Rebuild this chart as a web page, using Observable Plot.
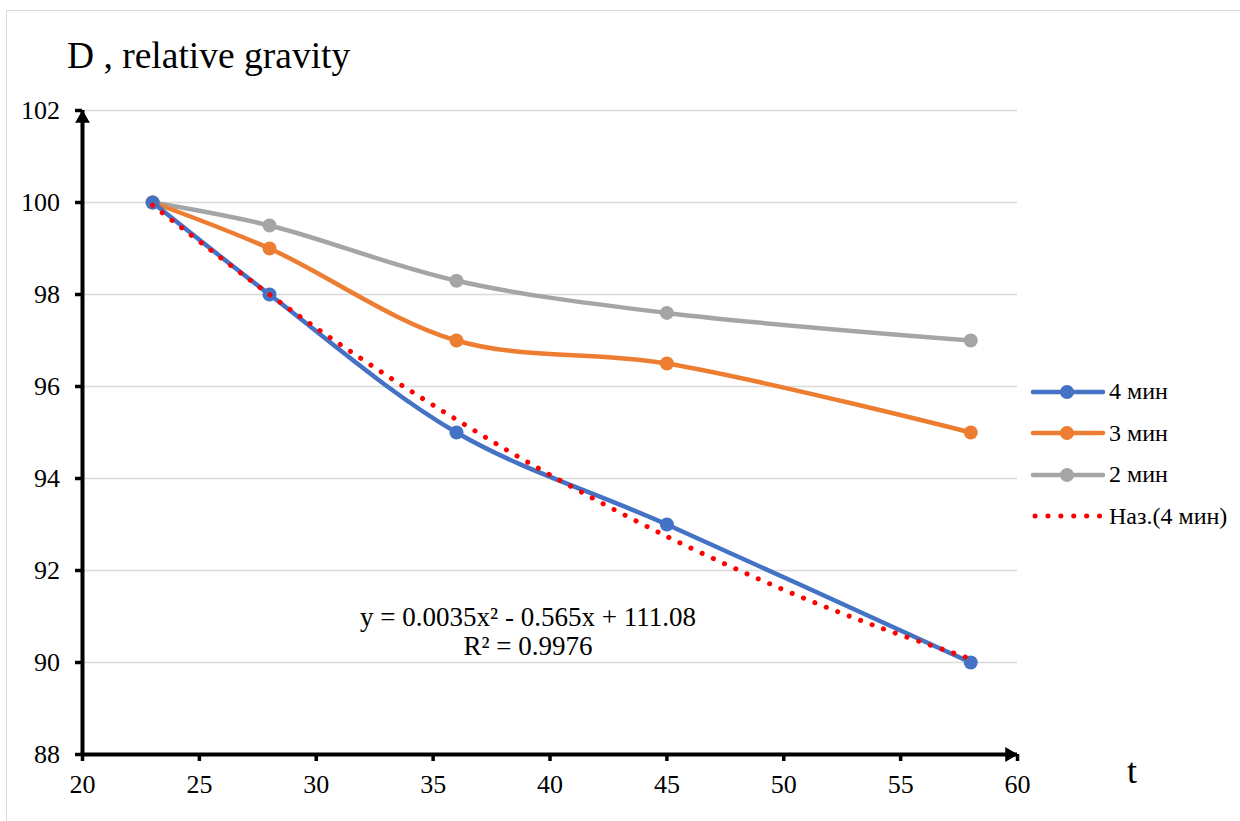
<!DOCTYPE html>
<html><head><meta charset="utf-8">
<script src="https://cdn.jsdelivr.net/npm/d3@7"></script>
<script src="https://cdn.jsdelivr.net/npm/@observablehq/plot@0.6"></script>
<style>
body{margin:0;background:#fff;}
#wrap{position:relative;width:1240px;height:821px;overflow:hidden;font-family:"Liberation Serif","Times New Roman",serif;color:#000;}
#frame{position:absolute;left:6px;top:10px;width:1300px;height:900px;border:1px solid #d9d9d9;box-sizing:border-box;}
#chart{position:absolute;left:0;top:0;}
#title{position:absolute;left:67px;top:37px;font-size:37.5px;line-height:37.5px;white-space:nowrap;}
#tlabel{position:absolute;left:1127px;top:753px;font-size:36px;line-height:36px;}
#eq{position:absolute;left:328px;width:400px;top:603px;font-size:27px;text-align:center;line-height:29px;white-space:nowrap;}
#legend{position:absolute;left:1030px;top:371px;font-size:24px;}
.row{display:flex;align-items:center;height:41.5px;}
.row svg{margin-right:3px;}
</style></head>
<body><div id="wrap"><div id="frame"></div><div id="chart"></div>
<div id="title">D , relative gravity</div>
<div id="tlabel">t</div>
<div id="eq">y = 0.0035x² - 0.565x + 111.08<br>R² = 0.9976</div>
<div id="legend"></div>
</div>
<script>
const xValues = [23, 28, 36, 45, 58];
const min4 = [100, 98, 95, 93, 90];
const min3 = [100, 99, 97, 96.5, 95];
const min2 = [100, 99.5, 98.3, 97.6, 97];
const trendX = [23, 28, 32, 36, 40, 45, 50, 54, 58];
const trendY = [99.94, 98.0, 96.58, 95.28, 94.08, 92.74, 91.58, 90.78, 90.08];
const seriesNames = ["4 мин", "3 мин", "2 мин"];
const seriesColors = ["#4472C4", "#ED7D31", "#A5A5A5"];
const trendName = "Наз.(4 мин)";
const trendColor = "#FF0000";
const xTicks = [20, 25, 30, 35, 40, 45, 50, 55, 60];
const yTicks = [88, 90, 92, 94, 96, 98, 100, 102];
const xDomain = [20, 60];
const yDomain = [88, 102];

const seriesVals = [min4, min3, min2];
const rows = [];
seriesNames.forEach((name, i) => xValues.forEach((x, j) => rows.push({series: name, x, y: seriesVals[i][j], color: seriesColors[i]})));
const trend = trendX.map((x, j) => ({x, y: trendY[j]}));
const drawOrder = ["2 мин", "3 мин", "4 мин"];

const marks = [
  Plot.gridY(yTicks.filter(v => v > yDomain[0]), {stroke: "#d9d9d9", strokeOpacity: 1, strokeWidth: 1.5}),
];
drawOrder.forEach(name => {
  const d = rows.filter(r => r.series === name);
  marks.push(Plot.line(d, {x: "x", y: "y", stroke: d[0].color, strokeWidth: 4.5, curve: "catmull-rom"}));
  marks.push(Plot.dot(d, {x: "x", y: "y", fill: d[0].color, r: 7}));
});
marks.push(
  Plot.line(trend, {x: "x", y: "y", stroke: trendColor, strokeWidth: 5, strokeDasharray: "0.1 12.2", strokeLinecap: "round", curve: "catmull-rom"}),
  Plot.ruleX([xDomain[0]], {y1: yDomain[0], y2: yDomain[1], stroke: "black", strokeWidth: 4}),
  Plot.ruleY([yDomain[0]], {x1: xDomain[0], x2: xDomain[1], stroke: "black", strokeWidth: 4}),
  Plot.dot([0], {x: () => xDomain[0], y: () => yDomain[1], symbol: "triangle", r: 5.5, fill: "black", dy: 8}),
  Plot.dot([0], {x: () => xDomain[1], y: () => yDomain[0], symbol: "triangle", r: 5.5, fill: "black", dx: -8, rotate: 90}),
  Plot.axisY(yTicks, {anchor: "left", tickSize: 7, tickPadding: 15.5, fontSize: 26, strokeWidth: 3.5, tickFormat: d => String(d), label: null}),
  Plot.axisX(xTicks, {anchor: "bottom", tickSize: 7, tickPadding: 13.5, fontSize: 26, strokeWidth: 3.5, tickFormat: d => String(d), label: null})
);

const chart = Plot.plot({
  width: 1240, height: 821,
  marginLeft: 82, marginRight: 223, marginTop: 110, marginBottom: 67,
  x: {domain: xDomain},
  y: {domain: yDomain},
  style: {fontFamily: "Liberation Serif, Times New Roman, serif", color: "black", background: "transparent"},
  marks
});
document.getElementById("chart").appendChild(chart);

const legend = document.getElementById("legend");
seriesNames.forEach((name, i) => {
  const row = document.createElement("div");
  row.className = "row";
  row.innerHTML = `<svg width="76" height="16"><line x1="3" x2="73" y1="8" y2="8" stroke="${seriesColors[i]}" stroke-width="4.5" stroke-linecap="round"/><circle cx="37" cy="8" r="7" fill="${seriesColors[i]}"/></svg><span>${name}</span>`;
  legend.appendChild(row);
});
const trow = document.createElement("div");
trow.className = "row";
trow.innerHTML = `<svg width="76" height="16"><line x1="5" x2="73" y1="8" y2="8" stroke="${trendColor}" stroke-width="5" stroke-dasharray="0.1 12.8" stroke-linecap="round"/></svg><span>${trendName}</span>`;
legend.appendChild(trow);
</script></body></html>
